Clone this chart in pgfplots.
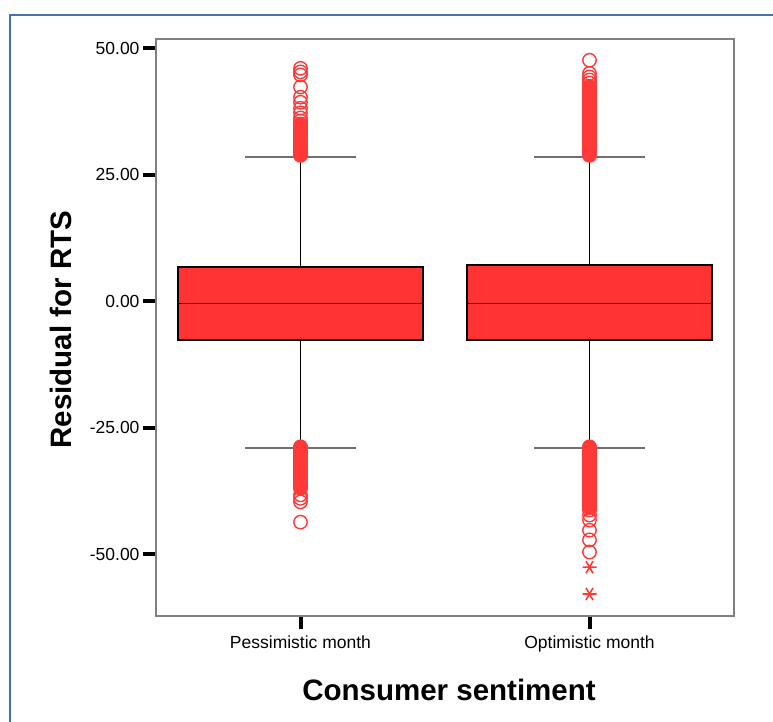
\documentclass[border=0pt]{standalone}
\usepackage{pgfplots}
\pgfplotsset{compat=1.18}
\usepackage{fontspec}
\setmainfont{Liberation Sans}
\definecolor{boxred}{HTML}{FF3333}
\definecolor{outred}{HTML}{FF3838}
\definecolor{capgray}{HTML}{707070}
\definecolor{framegray}{HTML}{808080}
\definecolor{borderblue}{HTML}{4272B0}
\begin{document}
\begin{tikzpicture}
\draw[borderblue, line width=2.5bp] (10bp,-5bp) -- (10bp,707bp) -- (780bp,707bp);
\begin{axis}[
  at={(156bp,106bp)}, anchor=south west,
  scale only axis, width=578bp, height=577bp,
  xmin=-0.5, xmax=1.5, ymin=-62.25, ymax=51.8,
  xtick={0,1}, xticklabels={Pessimistic month, Optimistic month},
  ytick={-50,-25,0,25,50},
  yticklabels={-50.00,-25.00,0.00,25.00,50.00},
  xtick pos=bottom, ytick pos=left,
  tick align=outside,
  major tick length=13bp,
  major tick style={black, line width=4bp},
  axis line style={framegray, line width=1.3bp},
  ticklabel style={font=\fontsize{17.5bp}{20bp}\selectfont, black},
  xticklabel style={yshift=-3bp},
  xlabel={Consumer sentiment},
  ylabel={Residual for RTS},
  label style={font=\fontsize{29.5bp}{34bp}\selectfont\bfseries},
  xlabel style={at={(axis description cs:0.507,-0.128)}, anchor=center},
  ylabel style={at={(axis description cs:-0.164,0.496)}, anchor=center},
]
% whiskers (vertical)
\addplot[black, line width=1bp] coordinates {(0,6.8)(0,28.5)};
\addplot[black, line width=1bp] coordinates {(0,-7.6)(0,-29.0)};
\addplot[black, line width=1bp] coordinates {(1,7.2)(1,28.5)};
\addplot[black, line width=1bp] coordinates {(1,-7.6)(1,-29.0)};
% whisker caps
\addplot[capgray, line width=1.5bp] coordinates {(-0.192,28.5)(0.192,28.5)};
\addplot[capgray, line width=1.5bp] coordinates {(-0.192,-29.0)(0.192,-29.0)};
\addplot[capgray, line width=1.5bp] coordinates {(0.808,28.5)(1.192,28.5)};
\addplot[capgray, line width=1.5bp] coordinates {(0.808,-29.0)(1.192,-29.0)};
% boxes (lower quartile to upper quartile)
\addplot[fill=boxred, draw=black, line width=2bp] coordinates {(-0.4225,-7.6)(0.4225,-7.6)(0.4225,6.8)(-0.4225,6.8)} -- cycle;
\addplot[fill=boxred, draw=black, line width=2bp] coordinates {(0.5775,-7.6)(1.4225,-7.6)(1.4225,7.2)(0.5775,7.2)} -- cycle;
% medians
\addplot[black, line width=1bp] coordinates {(-0.4225,-0.4)(0.4225,-0.4)};
\addplot[black, line width=1bp] coordinates {(0.5775,-0.4)(1.4225,-0.4)};
% outliers
\addplot[only marks, mark=o, mark size=6.7bp, draw=outred, line width=1.4bp] coordinates {
(0,28.8)(0,29.0)(0,29.2)(0,29.4)(0,29.6)(0,29.8)(0,30.0)(0,30.2)(0,30.4)(0,30.6)(0,30.8)(0,31.0)(0,31.2)(0,31.4)(0,31.6)(0,31.8)(0,32.0)(0,32.2)(0,32.4)(0,32.6)(0,32.8)(0,33.0)(0,33.2)(0,33.4)(0,33.6)(0,33.8)(0,34.0)(0,34.2)(0,34.4)(0,34.6)(0,34.8)(0,35.0)
(0,35.6)(0,36.2)(0,37.2)(0,38.1)(0,39.3)(0,40.3)(0,42.3)(0,44.7)(0,45.3)(0,46.0)
(0,-28.8)(0,-29.0)(0,-29.2)(0,-29.4)(0,-29.6)(0,-29.8)(0,-30.0)(0,-30.2)(0,-30.4)(0,-30.6)(0,-30.8)(0,-31.0)(0,-31.2)(0,-31.4)(0,-31.6)(0,-31.8)(0,-32.0)(0,-32.2)(0,-32.4)(0,-32.6)(0,-32.8)(0,-33.0)(0,-33.2)(0,-33.4)(0,-33.6)(0,-33.8)(0,-34.0)(0,-34.2)(0,-34.4)(0,-34.6)(0,-34.8)(0,-35.0)(0,-35.2)(0,-35.4)(0,-35.6)(0,-35.8)(0,-36.0)(0,-36.2)(0,-36.4)(0,-36.6)(0,-36.8)(0,-37.0)
(0,-38.3)(0,-39.0)(0,-39.7)(0,-43.7)
(1,28.8)(1,29.0)(1,29.2)(1,29.4)(1,29.6)(1,29.8)(1,30.0)(1,30.2)(1,30.4)(1,30.6)(1,30.8)(1,31.0)(1,31.2)(1,31.4)(1,31.6)(1,31.8)(1,32.0)(1,32.2)(1,32.4)(1,32.6)(1,32.8)(1,33.0)(1,33.2)(1,33.4)(1,33.6)(1,33.8)(1,34.0)(1,34.2)(1,34.4)(1,34.6)(1,34.8)(1,35.0)(1,35.2)(1,35.4)(1,35.6)(1,35.8)(1,36.0)(1,36.2)(1,36.4)(1,36.6)(1,36.8)(1,37.0)(1,37.2)(1,37.4)(1,37.6)(1,37.8)(1,38.0)(1,38.2)(1,38.4)(1,38.6)(1,38.8)(1,39.0)(1,39.2)(1,39.4)(1,39.6)(1,39.8)(1,40.0)(1,40.2)(1,40.4)(1,40.6)(1,40.8)(1,41.0)(1,41.2)(1,41.4)(1,41.6)(1,41.8)(1,42.0)(1,42.2)(1,42.4)
(1,43.1)(1,43.7)(1,44.3)(1,45.0)(1,47.6)
(1,-28.8)(1,-29.0)(1,-29.2)(1,-29.4)(1,-29.6)(1,-29.8)(1,-30.0)(1,-30.2)(1,-30.4)(1,-30.6)(1,-30.8)(1,-31.0)(1,-31.2)(1,-31.4)(1,-31.6)(1,-31.8)(1,-32.0)(1,-32.2)(1,-32.4)(1,-32.6)(1,-32.8)(1,-33.0)(1,-33.2)(1,-33.4)(1,-33.6)(1,-33.8)(1,-34.0)(1,-34.2)(1,-34.4)(1,-34.6)(1,-34.8)(1,-35.0)(1,-35.2)(1,-35.4)(1,-35.6)(1,-35.8)(1,-36.0)(1,-36.2)(1,-36.4)(1,-36.6)(1,-36.8)(1,-37.0)(1,-37.2)(1,-37.4)(1,-37.6)(1,-37.8)(1,-38.0)(1,-38.2)(1,-38.4)(1,-38.6)(1,-38.8)(1,-39.0)(1,-39.2)(1,-39.4)(1,-39.6)(1,-39.8)(1,-40.0)(1,-40.2)(1,-40.4)(1,-40.6)(1,-40.8)
(1,-41.3)(1,-42.3)(1,-43.3)(1,-45.3)(1,-47.2)(1,-49.6)
};
% extreme values
\addplot[only marks, mark=asterisk, mark size=7bp, mark options={rotate=90}, draw=outred, line width=1.6bp] coordinates {(1,-52.6)(1,-57.9)};
\end{axis}
\pgfresetboundingbox
\useasboundingbox (0,0) rectangle (773bp,722bp);
\end{tikzpicture}
\end{document}
